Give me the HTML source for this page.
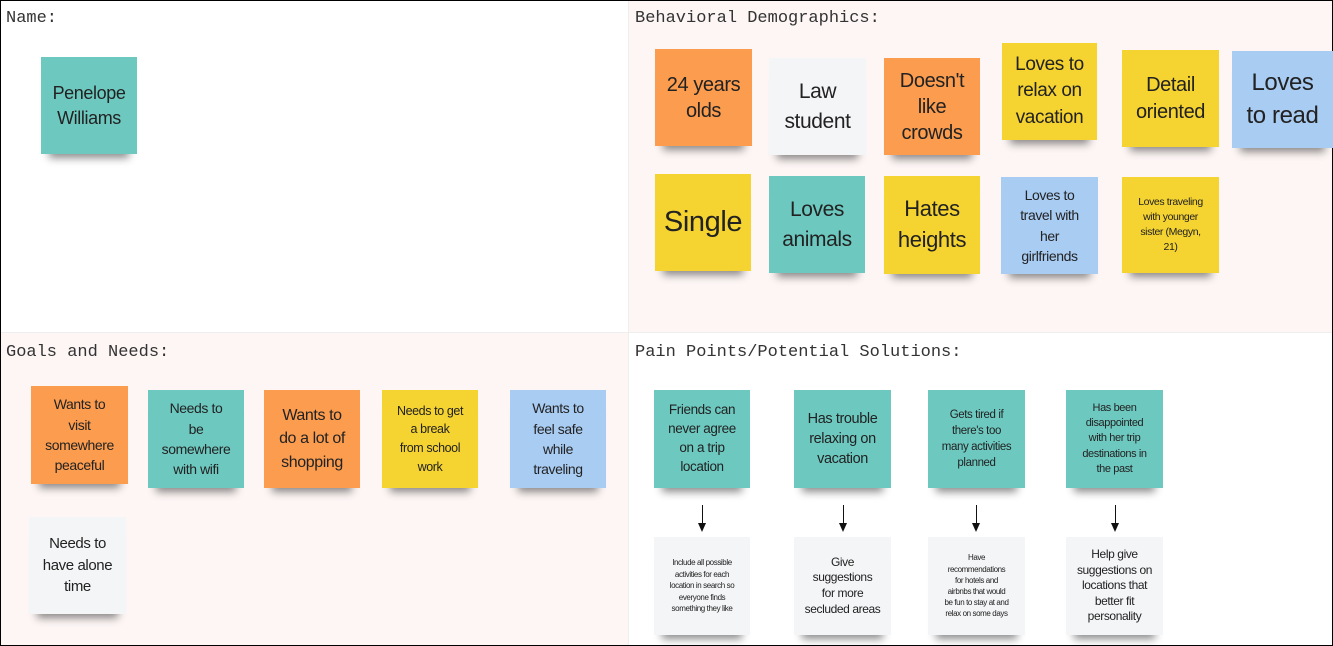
<!DOCTYPE html>
<html><head><meta charset="utf-8"><style>
body{margin:0;width:1333px;height:646px;position:relative;overflow:hidden;background:#fff;font-family:"Liberation Sans",sans-serif;}
.q{position:absolute;}
.h{position:absolute;font-family:"Liberation Mono",monospace;font-size:17px;color:#333;}
.n{position:absolute;display:flex;align-items:center;justify-content:center;text-align:center;color:#222;box-shadow:0 12px 8px -8px rgba(0,0,0,.45);line-height:1.2;box-sizing:border-box;padding:2px;letter-spacing:-0.4px;white-space:nowrap}
.o{background:#fb9c4f}.w{background:#f4f5f7}.y{background:#f5d330}.b{background:#a9ccf3}.t{background:#6dc9c0}
.a{position:absolute;width:1px;background:#111;height:20px}
.a:after{content:"";position:absolute;left:-4px;top:18px;border-left:4.5px solid transparent;border-right:4.5px solid transparent;border-top:9px solid #111}
</style></head><body>
<div class="q" style="left:628px;top:0;width:705px;height:332px;background:#fdf6f5"></div>
<div class="q" style="left:0;top:332px;width:628px;height:314px;background:#fdf6f5"></div>
<div class="q" style="left:0;top:332px;width:1333px;height:1px;background:#eee"></div>
<div class="q" style="left:628px;top:0;width:1px;height:646px;background:#eee"></div>
<div class="q" style="left:0;top:0;width:1331px;height:644px;border:1px solid #000"></div>
<div class="h" style="left:6px;top:9px">Name:</div>
<div class="h" style="left:635px;top:9px">Behavioral Demographics:</div>
<div class="h" style="left:6px;top:343px">Goals and Needs:</div>
<div class="h" style="left:635px;top:343px">Pain Points/Potential Solutions:</div>

<div class="n t" style="left:41px;top:57px;width:96px;height:97px;font-size:18px;line-height:1.35">Penelope<br>Williams</div>

<div class="n o" style="left:655px;top:49px;width:97px;height:97px;font-size:20px;line-height:1.3">24 years<br>olds</div>
<div class="n w" style="left:769px;top:58px;width:97px;height:97px;font-size:21px;line-height:1.4">Law<br>student</div>
<div class="n o" style="left:884px;top:58px;width:96px;height:97px;font-size:20px;line-height:1.3">Doesn't<br>like<br>crowds</div>
<div class="n y" style="left:1002px;top:43px;width:95px;height:97px;font-size:19px;line-height:1.4">Loves to<br>relax on<br>vacation</div>
<div class="n y" style="left:1122px;top:50px;width:97px;height:97px;font-size:20px;line-height:1.35">Detail<br>oriented</div>
<div class="n b" style="left:1232px;top:51px;width:101px;height:97px;font-size:24px;line-height:1.35">Loves<br>to read</div>
<div class="n y" style="left:655px;top:174px;width:96px;height:97px;font-size:29px">Single</div>
<div class="n t" style="left:769px;top:176px;width:96px;height:97px;font-size:21px;line-height:1.4">Loves<br>animals</div>
<div class="n y" style="left:884px;top:176px;width:96px;height:98px;font-size:22px;line-height:1.4">Hates<br>heights</div>
<div class="n b" style="left:1001px;top:177px;width:97px;height:97px;font-size:14px;line-height:1.45">Loves to<br>travel with<br>her<br>girlfriends</div>
<div class="n y" style="left:1122px;top:177px;width:97px;height:96px;font-size:10.5px;line-height:1.45">Loves traveling<br>with younger<br>sister (Megyn,<br>21)</div>

<div class="n o" style="left:31px;top:386px;width:97px;height:98px;font-size:14px;line-height:1.45">Wants to<br>visit<br>somewhere<br>peaceful</div>
<div class="n t" style="left:148px;top:390px;width:96px;height:98px;font-size:14px;line-height:1.45">Needs to<br>be<br>somewhere<br>with wifi</div>
<div class="n o" style="left:264px;top:390px;width:96px;height:98px;font-size:16px;line-height:1.45">Wants to<br>do a lot of<br>shopping</div>
<div class="n y" style="left:382px;top:390px;width:96px;height:98px;font-size:12.5px;line-height:1.5">Needs to get<br>a break<br>from school<br>work</div>
<div class="n b" style="left:510px;top:390px;width:96px;height:98px;font-size:14px;line-height:1.45">Wants to<br>feel safe<br>while<br>traveling</div>
<div class="n w" style="left:29px;top:517px;width:97px;height:97px;font-size:15px;line-height:1.45">Needs to<br>have alone<br>time</div>

<div class="n t" style="left:654px;top:390px;width:96px;height:98px;font-size:13.5px;line-height:1.4">Friends can<br>never agree<br>on a trip<br>location</div>
<div class="n t" style="left:794px;top:390px;width:97px;height:98px;font-size:14.5px;line-height:1.4">Has trouble<br>relaxing on<br>vacation</div>
<div class="n t" style="left:928px;top:390px;width:97px;height:98px;font-size:11.5px;line-height:1.4">Gets tired if<br>there's too<br>many activities<br>planned</div>
<div class="n t" style="left:1066px;top:390px;width:97px;height:98px;font-size:11px;line-height:1.4">Has been<br>disappointed<br>with her trip<br>destinations in<br>the past</div>
<div class="a" style="left:702px;top:505px"></div>
<div class="a" style="left:843px;top:505px"></div>
<div class="a" style="left:976px;top:505px"></div>
<div class="a" style="left:1115px;top:505px"></div>
<div class="n w" style="left:654px;top:537px;width:96px;height:98px;font-size:8px;line-height:1.45">Include all possible<br>activities for each<br>location in search so<br>everyone finds<br>something they like</div>
<div class="n w" style="left:794px;top:537px;width:97px;height:98px;font-size:12px;line-height:1.3">Give<br>suggestions<br>for more<br>secluded areas</div>
<div class="n w" style="left:928px;top:537px;width:97px;height:98px;font-size:8px;line-height:1.4">Have<br>recommendations<br>for hotels and<br>airbnbs that would<br>be fun to stay at and<br>relax on some days</div>
<div class="n w" style="left:1066px;top:537px;width:97px;height:98px;font-size:12px;line-height:1.3">Help give<br>suggestions on<br>locations that<br>better fit<br>personality</div>
</body></html>
